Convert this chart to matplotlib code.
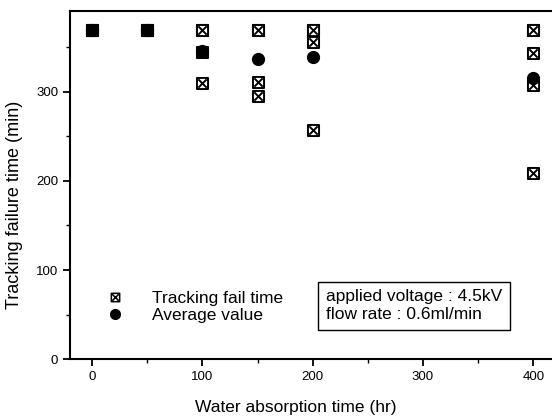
import matplotlib
matplotlib.use("Agg")
import matplotlib.pyplot as plt
from matplotlib.path import Path
from matplotlib.lines import Line2D

# water absorption time (hr)
hours = [0, 50, 100, 150, 200, 400]
# individual tracking failure times (min) for each absorption time
fail_times = [
    [370, 370, 370],
    [370, 370, 370],
    [370, 370, 345, 310],
    [370, 370, 311, 295],
    [370, 370, 356, 257],
    [369, 369, 344, 308, 209],
]
avg_values = [370, 370, 346, 337, 339, 316]

plt.rcParams['font.family'] = ['Liberation Sans', 'DejaVu Sans']

# square with an x inside
box_x = Path(
    [(-1, -1), (1, -1), (1, 1), (-1, 1), (-1, -1),
     (-0.75, -0.75), (0.75, 0.75), (-0.75, 0.75), (0.75, -0.75)],
    [Path.MOVETO, Path.LINETO, Path.LINETO, Path.LINETO, Path.CLOSEPOLY,
     Path.MOVETO, Path.LINETO, Path.MOVETO, Path.LINETO])

fig = plt.figure(figsize=(5.52, 4.18), dpi=100)
ax = fig.add_axes([0.127, 0.141, 0.873, 0.833])

for h, vals in zip(hours, fail_times):
    ax.plot([h] * len(vals), vals, linestyle='none', marker=box_x, ms=8,
            mfc='white', mec='black', mew=1.4, zorder=3)
ax.plot(hours, avg_values, linestyle='none', marker='o', ms=8.5,
        color='black', zorder=4)

ax.set_xlim(-20, 417)
ax.set_ylim(0, 391)
ax.set_xticks([0, 100, 200, 300, 400])
ax.set_xticks([50, 150, 250, 350], minor=True)
ax.set_yticks([0, 100, 200, 300])
ax.set_yticks([50, 150, 250, 350], minor=True)
ax.tick_params(direction='out', length=5, width=1.3, labelsize=9.5)
ax.tick_params(which='minor', direction='out', length=3, width=1.0)
ax.spines['right'].set_visible(False)
for s in ['left', 'bottom', 'top']:
    ax.spines[s].set_linewidth(1.5)

ax.set_xlabel('Water absorption time (hr)', fontsize=12.5)
ax.xaxis.set_label_coords(0.469, -0.118)
ax.set_ylabel('Tracking failure time (min)', fontsize=13)
ax.yaxis.set_label_coords(-0.098, 0.443)

handles = [
    Line2D([], [], linestyle='none', marker=box_x, ms=6, mfc='white',
           mec='black', mew=1.1),
    Line2D([], [], linestyle='none', marker='o', ms=7, color='black'),
]
ax.legend(handles, ['Tracking fail time', 'Average value'], frameon=False,
          loc='upper left', bbox_to_anchor=(0.04, 0.22), fontsize=12.5,
          handletextpad=1.1, labelspacing=0.1, borderpad=0)

ax.text(0.53, 0.2, 'applied voltage : 4.5kV\nflow rate : 0.6ml/min',
        transform=ax.transAxes, fontsize=12.5, va='top', ha='left',
        linespacing=1.2,
        bbox=dict(boxstyle='square,pad=0.45', fc='white', ec='black', lw=1.0))

fig.savefig('out.png', dpi=100)
